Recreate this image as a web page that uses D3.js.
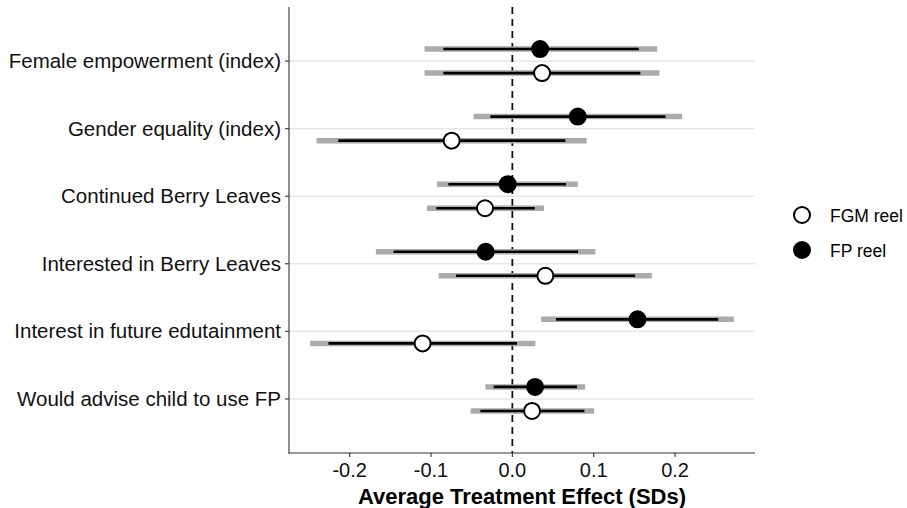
<!DOCTYPE html>
<html>
<head>
<meta charset="utf-8">
<script src="https://cdn.jsdelivr.net/npm/d3@7"></script>
<style>
  html, body { margin: 0; padding: 0; background: #fff; }
  svg { display: block; font-family: "Liberation Sans", Arial, sans-serif; }
</style>
</head>
<body>
<svg id="chart" width="907" height="508"></svg>
<script>
// ---- Data ----
const categories = [
  "Female empowerment (index)",
  "Gender equality (index)",
  "Continued Berry Leaves",
  "Interested in Berry Leaves",
  "Interest in future edutainment",
  "Would advise child to use FP"
];
const seriesNames = ["FGM reel", "FP reel"];

// FGM reel
const fgmEst  = [0.0365, -0.0746, -0.0336, 0.0406, -0.1103, 0.0242];
const fgmLo90 = [-0.0849, -0.2140, -0.0935, -0.0693, -0.2260, -0.0394];
const fgmHi90 = [0.1574, 0.0652, 0.0275, 0.1509, 0.0057, 0.0886];
const fgmLo95 = [-0.1079, -0.2407, -0.1050, -0.0906, -0.2485, -0.0513];
const fgmHi95 = [0.1808, 0.0914, 0.0390, 0.1714, 0.0283, 0.1005];

// FP reel
const fpEst  = [0.0341, 0.0804, -0.0057, -0.0328, 0.1538, 0.0279];
const fpLo90 = [-0.0849, -0.0271, -0.0787, -0.1460, 0.0537, -0.0230];
const fpHi90 = [0.1554, 0.1882, 0.0660, 0.0808, 0.2530, 0.0795];
const fpLo95 = [-0.1079, -0.0476, -0.0926, -0.1677, 0.0353, -0.0332];
const fpHi95 = [0.1780, 0.2087, 0.0804, 0.1021, 0.2722, 0.0894];

const xTicks = [-0.2, -0.1, 0.0, 0.1, 0.2];
const xTickLabels = ["-0.2", "-0.1", "0.0", "0.1", "0.2"];
const xTitle = "Average Treatment Effect (SDs)";

// ---- Build rows ----
const rows = [];
categories.forEach((c, i) => {
  rows.push({cat: c, series: "FGM reel", est: fgmEst[i], lo90: fgmLo90[i], hi90: fgmHi90[i], lo95: fgmLo95[i], hi95: fgmHi95[i]});
  rows.push({cat: c, series: "FP reel", est: fpEst[i], lo90: fpLo90[i], hi90: fpHi90[i], lo95: fpLo95[i], hi95: fpHi95[i]});
});

// ---- Layout ----
const panel = {left: 289, right: 755, top: 7, bottom: 453};
const svg = d3.select("#chart");

const lo = d3.min(rows, d => d.lo95), hi = d3.max(rows, d => d.hi95);
const pad = (hi - lo) * 0.05;
const x = d3.scaleLinear().domain([lo - pad, hi + pad]).range([panel.left, panel.right]);
const y = d3.scalePoint().domain(categories).range([panel.top, panel.bottom]).padding(0.8);
const dodge = y.step() * 0.178;
const yOff = {"FP reel": -dodge, "FGM reel": dodge};

// gridlines
svg.append("g").selectAll("line").data(categories).join("line")
  .attr("x1", panel.left).attr("x2", panel.right)
  .attr("y1", d => y(d)).attr("y2", d => y(d))
  .attr("stroke", "#e6e6e6").attr("stroke-width", 1.5);

// zero line
svg.append("line")
  .attr("x1", x(0)).attr("x2", x(0))
  .attr("y1", panel.top).attr("y2", panel.bottom)
  .attr("stroke", "#111").attr("stroke-width", 1.8)
  .attr("stroke-dasharray", "7,5");

// 95% intervals (grey)
svg.append("g").selectAll("line").data(rows).join("line")
  .attr("x1", d => x(d.lo95)).attr("x2", d => x(d.hi95))
  .attr("y1", d => y(d.cat) + yOff[d.series]).attr("y2", d => y(d.cat) + yOff[d.series])
  .attr("stroke", "#ababab").attr("stroke-width", 5.5);

// 90% intervals (black)
svg.append("g").selectAll("line").data(rows).join("line")
  .attr("x1", d => x(d.lo90)).attr("x2", d => x(d.hi90))
  .attr("y1", d => y(d.cat) + yOff[d.series]).attr("y2", d => y(d.cat) + yOff[d.series])
  .attr("stroke", "#000").attr("stroke-width", 2.6);

// points
svg.append("g").selectAll("circle").data(rows).join("circle")
  .attr("cx", d => x(d.est)).attr("cy", d => y(d.cat) + yOff[d.series])
  .attr("r", 8)
  .attr("fill", d => d.series === "FP reel" ? "#000" : "#fff")
  .attr("stroke", "#000").attr("stroke-width", 2);

// axes
const axisColor = "#333";
svg.append("line").attr("x1", panel.left).attr("x2", panel.left)
  .attr("y1", panel.top).attr("y2", panel.bottom + 0.5)
  .attr("stroke", axisColor).attr("stroke-width", 1.1);
svg.append("line").attr("x1", panel.left - 0.5).attr("x2", panel.right)
  .attr("y1", panel.bottom).attr("y2", panel.bottom)
  .attr("stroke", axisColor).attr("stroke-width", 1.1);

// y ticks & labels
const yg = svg.append("g").selectAll("g").data(categories).join("g");
yg.append("line").attr("x1", panel.left - 4).attr("x2", panel.left)
  .attr("y1", d => y(d)).attr("y2", d => y(d))
  .attr("stroke", axisColor).attr("stroke-width", 1.1);
yg.append("text").attr("x", panel.left - 8).attr("y", d => y(d) + 7)
  .attr("text-anchor", "end").attr("font-size", 20.5).attr("fill", "#111")
  .text(d => d);

// x ticks & labels
const xg = svg.append("g").selectAll("g").data(xTicks).join("g");
xg.append("line").attr("x1", d => x(d)).attr("x2", d => x(d))
  .attr("y1", panel.bottom).attr("y2", panel.bottom + 4)
  .attr("stroke", axisColor).attr("stroke-width", 1.1);
xg.append("text").attr("x", d => x(d)).attr("y", 477)
  .attr("text-anchor", "middle").attr("font-size", 20).attr("fill", "#111")
  .text((d, i) => xTickLabels[i]);

// x title
svg.append("text").attr("x", (panel.left + panel.right) / 2).attr("y", 504)
  .attr("text-anchor", "middle").attr("font-size", 22).attr("font-weight", "bold")
  .attr("fill", "#000").text(xTitle);

// legend
const lg = svg.append("g").selectAll("g").data(seriesNames).join("g")
  .attr("transform", (d, i) => `translate(802, ${215 + i * 35})`);
lg.append("circle").attr("r", 8)
  .attr("fill", d => d === "FP reel" ? "#000" : "#fff")
  .attr("stroke", "#000").attr("stroke-width", 2);
lg.append("text").attr("x", 28).attr("y", 6.5)
  .attr("font-size", 17.5).attr("fill", "#000").text(d => d);
</script>
</body>
</html>
